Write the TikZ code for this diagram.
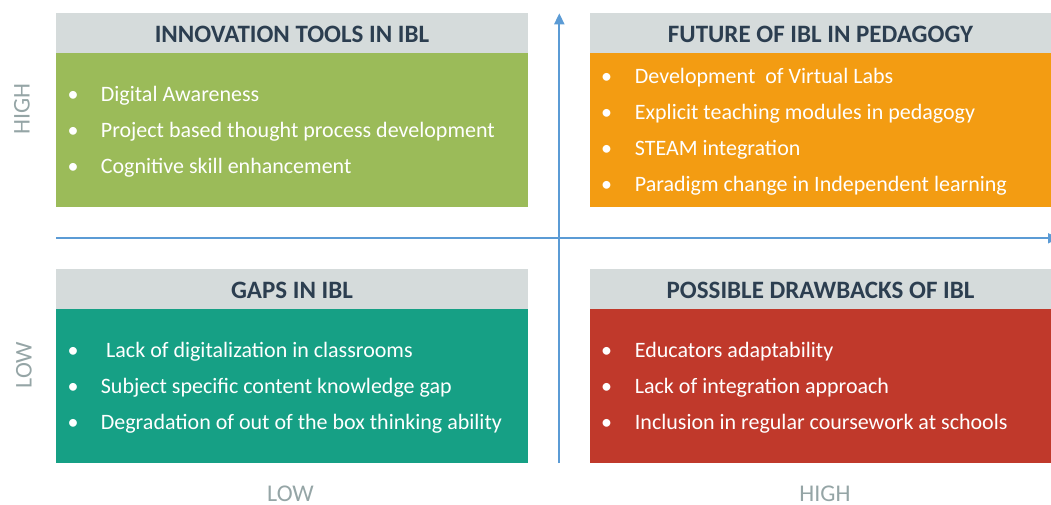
\documentclass[tikz,border=0pt]{standalone}
\usepackage{fontspec}
\setmainfont{Carlito}
\usetikzlibrary{arrows.meta}
\definecolor{hdr}{HTML}{D5DBDB}
\definecolor{hdrtxt}{HTML}{2C3E50}
\definecolor{cgreen}{HTML}{9BBB59}
\definecolor{corange}{HTML}{F39C12}
\definecolor{cteal}{HTML}{16A085}
\definecolor{cred}{HTML}{C0392B}
\definecolor{axiscol}{HTML}{5B9BD5}
\definecolor{lbl}{HTML}{95A5A6}
\begin{document}
\begin{tikzpicture}[x=1pt,y=-1pt,
  hdrbox/.style={fill=hdr, draw=none, anchor=north west, inner sep=0pt,
    minimum height=39.4pt, minimum width=#1, text=hdrtxt,
    text height=19pt, text depth=0pt,
    font=\fontsize{25}{29}\selectfont\bfseries},
  bodybox/.style={fill=#1, draw=none, anchor=north west, inner sep=0pt, minimum height=154pt},
  item/.style={anchor=base west, text=white, inner sep=0pt, font=\fontsize{22}{26}\selectfont},
  bul/.style={anchor=base, text=white, inner sep=0pt, font=\fontsize{22}{26}\selectfont},
  axlbl/.style={text=lbl, inner sep=0pt, font=\fontsize{24}{28}\selectfont},
  axisline/.style={draw=axiscol, line width=1.8pt},
]
\useasboundingbox (0,0) rectangle (1051,505);

% axes
\coordinate (hL) at (56,238.3);
\coordinate (hR) at (1059,238.3);
\coordinate (vB) at (559.3,463);
\coordinate (vT) at (559.3,13.3);
\draw[axisline, -{Triangle[length=11pt,width=10pt]}] (hL) -- (hR);
\draw[axisline, -{Triangle[length=11pt,width=10pt]}] (vB) -- (vT);

% top-left
\node[bodybox=cgreen, minimum width=471.5pt] (b1) at (56,52.7) {};
\node[hdrbox=471.5pt] (h1) at (56,13.3) {INNOVATION TOOLS IN IBL};
\foreach \y/\t [count=\i] in {101.7/Digital Awareness, 137.5/Project based thought process development, 173.3/Cognitive skill enhancement}{
  \node[bul] (b1d\i) at (73,\y) {•};
  \node[item] (b1t\i) at (100.7,\y) {\t};
}

% top-right
\node[bodybox=corange, minimum width=462pt] (b2) at (589.3,52.7) {};
\node[hdrbox=462pt] (h2) at (589.3,13.3) {FUTURE OF IBL IN PEDAGOGY};
\foreach \y/\t [count=\i] in {83.3/Development\ \ of Virtual Labs, 119.3/Explicit teaching modules in pedagogy, 155.5/STEAM integration, 191.5/Paradigm change in Independent learning}{
  \node[bul] (b2d\i) at (606.7,\y) {•};
  \node[item] (b2t\i) at (634.7,\y) {\t};
}

% bottom-left
\node[bodybox=cteal, minimum width=471.5pt] (b3) at (56,308.3) {};
\node[hdrbox=471.5pt] (h3) at (56,269) {GAPS IN IBL};
\node[bul] (b3d1) at (73,357.3) {•};
\node[item] (b3t1) at (106,357.3) {Lack of digitalization in classrooms};
\node[bul] (b3d2) at (73,393.3) {•};
\node[item] (b3t2) at (100.7,393.3) {Subject specific content knowledge gap};
\node[bul] (b3d3) at (73,429) {•};
\node[item] (b3t3) at (100.7,429) {Degradation of out of the box thinking ability};

% bottom-right
\node[bodybox=cred, minimum width=462pt] (b4) at (589.3,308.3) {};
\node[hdrbox=462pt] (h4) at (589.3,269) {POSSIBLE DRAWBACKS OF IBL};
\foreach \y/\t [count=\i] in {357.3/Educators adaptability, 393.3/Lack of integration approach, 429/Inclusion in regular coursework at schools}{
  \node[bul] (b4d\i) at (606.7,\y) {•};
  \node[item] (b4t\i) at (634.7,\y) {\t};
}

% axis labels
\node[axlbl, rotate=90] (yhigh) at (22,109) {HIGH};
\node[axlbl, rotate=90] (ylow) at (24,365) {LOW};
\node[axlbl, anchor=base] (xlow) at (290.5,501) {LOW};
\node[axlbl, anchor=base] (xhigh) at (825,501) {HIGH};
\end{tikzpicture}
\end{document}
